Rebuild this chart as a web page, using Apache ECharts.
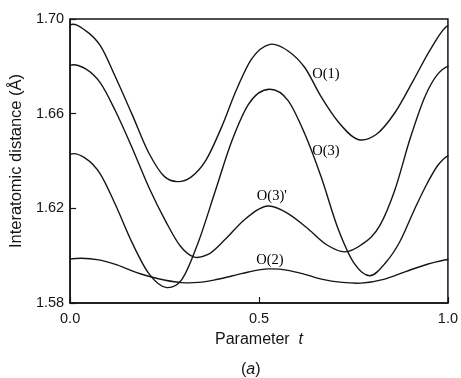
<!DOCTYPE html>
<html>
<head>
<meta charset="utf-8">
<script src="https://cdn.jsdelivr.net/npm/echarts@6/dist/echarts.min.js"></script>
<style>
html,body{margin:0;padding:0;background:#fff;}
#chart{width:461px;height:378px;}
</style>
</head>
<body>
<div id="chart"></div>
<script>
// Parameter t positions and interatomic distances (Å)
const o1T = [0, 0.040, 0.080, 0.120, 0.164, 0.208, 0.250, 0.283, 0.320, 0.360, 0.400, 0.440, 0.480, 0.529, 0.577, 0.621, 0.665, 0.710, 0.762, 0.810, 0.860, 0.910, 0.955, 1.0];
const o1V = [1.6975, 1.6952, 1.6887, 1.6755, 1.6597, 1.6435, 1.6334, 1.6313, 1.6332, 1.6405, 1.6540, 1.6700, 1.6830, 1.6893, 1.6865, 1.6795, 1.6670, 1.6565, 1.6491, 1.6512, 1.6605, 1.6745, 1.6875, 1.6972];

const o3T = [0, 0.040, 0.080, 0.120, 0.164, 0.208, 0.256, 0.296, 0.340, 0.384, 0.428, 0.472, 0.529, 0.577, 0.621, 0.665, 0.709, 0.753, 0.793, 0.835, 0.873, 0.910, 0.945, 0.975, 1.0];
const o3V = [1.6428, 1.6412, 1.6345, 1.6215, 1.6055, 1.5925, 1.5865, 1.5900, 1.6060, 1.6272, 1.6484, 1.6639, 1.6703, 1.6655, 1.6515, 1.6330, 1.6115, 1.5965, 1.5915, 1.5970, 1.6060, 1.6190, 1.6305, 1.6385, 1.6422];

const o3pT = [0, 0.040, 0.080, 0.120, 0.164, 0.208, 0.252, 0.292, 0.327, 0.365, 0.410, 0.460, 0.525, 0.577, 0.625, 0.680, 0.727, 0.770, 0.820, 0.860, 0.900, 0.940, 0.972, 1.0];
const o3pV = [1.6804, 1.6790, 1.6730, 1.6611, 1.6456, 1.6290, 1.6148, 1.6040, 1.5995, 1.6005, 1.6068, 1.6150, 1.6210, 1.6178, 1.6120, 1.6045, 1.6016, 1.6045, 1.6128, 1.6280, 1.6495, 1.6675, 1.6765, 1.6800];

const o2T = [0, 0.076, 0.120, 0.164, 0.208, 0.252, 0.296, 0.340, 0.384, 0.428, 0.472, 0.525, 0.577, 0.621, 0.665, 0.720, 0.770, 0.830, 0.890, 0.950, 1.0];
const o2V = [1.5986, 1.5982, 1.5963, 1.5936, 1.5913, 1.5896, 1.5886, 1.5887, 1.5898, 1.5914, 1.5931, 1.5944, 1.5938, 1.5921, 1.5901, 1.5887, 1.5884, 1.5900, 1.5934, 1.5966, 1.5984];

const seriesNames = ["O(1)", "O(3)", "O(3)'", "O(2)"];
// label anchor positions in data space [t, distance]
const labelPos = [[0.677, 1.6768], [0.677, 1.6440], [0.534, 1.6253], [0.529, 1.5979]];

const xTicks = [0, 0.5, 1.0];
const yTicks = [1.58, 1.62, 1.66, 1.70];

const curves = [[o1T, o1V], [o3T, o3V], [o3pT, o3pV], [o2T, o2V]];
const ink = '#151515';

// slopes for a smooth periodic cubic Hermite curve through the measured points
function slopes(t, v) {
  const n = t.length, h = [], d = [], m = [];
  for (let i = 0; i < n - 1; i++) { h[i] = t[i + 1] - t[i]; d[i] = (v[i + 1] - v[i]) / h[i]; }
  for (let i = 1; i < n - 1; i++) m[i] = (d[i - 1] * h[i] + d[i] * h[i - 1]) / (h[i - 1] + h[i]);
  const hl = h[n - 2], h0 = h[0];
  m[0] = m[n - 1] = (d[n - 2] * h0 + d[0] * hl) / (h0 + hl);
  return m;
}

function makeRender(t, v) {
  const m = slopes(t, v);
  return function (params, api) {
    if (params.dataIndex !== 0) return null;
    let p = api.coord([t[0], v[0]]);
    let path = 'M' + p[0].toFixed(2) + ' ' + p[1].toFixed(2);
    for (let i = 0; i < t.length - 1; i++) {
      const h = t[i + 1] - t[i];
      const c1 = api.coord([t[i] + h / 3, v[i] + m[i] * h / 3]);
      const c2 = api.coord([t[i + 1] - h / 3, v[i + 1] - m[i + 1] * h / 3]);
      const p1 = api.coord([t[i + 1], v[i + 1]]);
      path += ' C' + [c1[0], c1[1], c2[0], c2[1], p1[0], p1[1]].map(x => x.toFixed(2)).join(' ');
    }
    return {type: 'path', shape: {pathData: path}, style: {stroke: ink, lineWidth: 1.4, fill: null, lineJoin: 'round', lineCap: 'round'}};
  };
}

const chart = echarts.init(document.getElementById('chart'), null, {renderer: 'canvas'});
chart.setOption({
  animation: false,
  backgroundColor: '#fff',
  grid: {left: 69, right: 12, top: 19, bottom: 75, show: true, borderColor: ink, borderWidth: 1.5, backgroundColor: 'transparent'},
  xAxis: {
    type: 'value', min: 0, max: 1,
    name: '{n|Parameter  }{t|t}', nameLocation: 'middle', nameGap: 29,
    nameTextStyle: {rich: {n: {fontFamily: 'Liberation Sans', fontSize: 16, color: ink}, t: {fontFamily: 'Liberation Sans', fontStyle: 'italic', fontSize: 16, color: ink}}},
    axisLine: {lineStyle: {color: ink, width: 1.5}},
    axisTick: {inside: true, length: 6, customValues: xTicks, lineStyle: {color: ink, width: 1.2}},
    axisLabel: {customValues: xTicks, margin: 8, fontFamily: 'Liberation Sans', fontSize: 14.5, color: ink, formatter: v => v.toFixed(1)},
    splitLine: {show: false}
  },
  yAxis: {
    type: 'value', min: 1.58, max: 1.70,
    name: 'Interatomic distance (Å)', nameLocation: 'middle', nameGap: 39,
    nameTextStyle: {fontFamily: 'Liberation Sans', fontSize: 16.5, color: ink},
    axisLine: {lineStyle: {color: ink, width: 1.5}},
    axisTick: {inside: true, length: 6, customValues: yTicks, lineStyle: {color: ink, width: 1.2}},
    axisLabel: {customValues: yTicks, margin: 6, fontFamily: 'Liberation Sans', fontSize: 14.5, color: ink, formatter: v => v.toFixed(2)},
    splitLine: {show: false}
  },
  series: curves.map((c, i) => ({
    name: seriesNames[i],
    type: 'custom',
    coordinateSystem: 'cartesian2d',
    data: c[0].map((x, j) => [x, c[1][j]]),
    encode: {x: 0, y: 1},
    renderItem: makeRender(c[0], c[1]),
    silent: true
  })).concat([{
    name: 'labels',
    type: 'scatter',
    data: labelPos.map((p, i) => ({value: p, name: seriesNames[i]})),
    symbol: 'circle', symbolSize: 1,
    itemStyle: {color: 'rgba(0,0,0,0)'},
    silent: true,
    label: {show: true, position: 'inside', formatter: '{b}', fontFamily: 'Liberation Serif', fontSize: 14.5, color: '#000', textBorderWidth: 0, opacity: 1}
  }]),
  graphic: [{
    type: 'text', left: 241, top: 362,
    style: {
      text: '({i|a})',
      rich: {i: {fontFamily: 'Liberation Sans', fontStyle: 'italic', fontSize: 16, fill: ink}},
      fontFamily: 'Liberation Sans', fontSize: 16, fill: ink
    }
  }]
});
</script>
</body>
</html>
